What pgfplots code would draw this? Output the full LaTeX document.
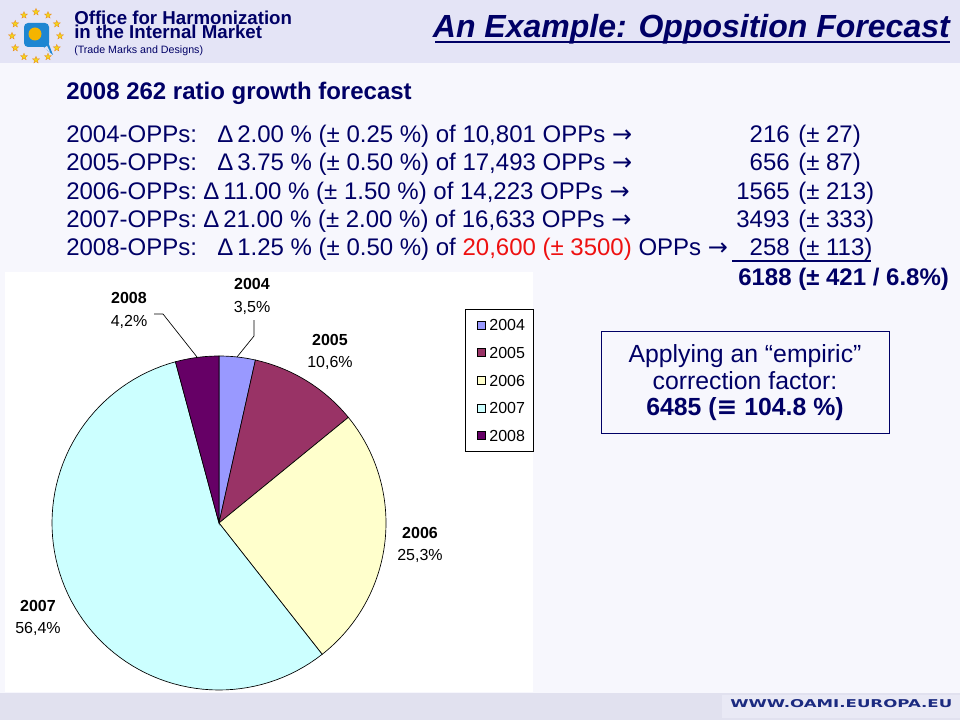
\documentclass[border=0pt]{standalone}
\usepackage{fontspec}
\setmainfont{Liberation Sans}
\newfontfamily\dejavu{DejaVu Sans}
\usepackage{graphicx}
\usepackage{pgfplots}
\pgfplotsset{compat=1.18}
\usetikzlibrary{shapes.geometric}

\definecolor{navy}{HTML}{000066}
\definecolor{hdr}{HTML}{E4E4F6}
\definecolor{slide}{HTML}{F7F7FD}
\definecolor{ftr}{HTML}{E1E1EF}
\definecolor{ftrr}{HTML}{E9E9F5}
\definecolor{urlblue}{HTML}{1B2A80}
\definecolor{cA}{HTML}{9999FF}
\definecolor{cB}{HTML}{993366}
\definecolor{cC}{HTML}{FFFFCC}
\definecolor{cD}{HTML}{CCFFFF}
\definecolor{cE}{HTML}{660066}
\definecolor{oppred}{HTML}{EE1111}
\definecolor{logoblue}{HTML}{1E86D2}
\definecolor{logosun}{HTML}{F5B400}
\definecolor{starcol}{HTML}{F2D41C}

\newcommand\fs[1]{\fontsize{#1}{#1}\selectfont}
\newcommand\arr{{\dejavu →}}

% share of 2004..2008 oppositions, percent
\newcommand\pA{3.5}
\newcommand\pB{10.6}
\newcommand\pC{25.3}
\newcommand\pD{56.4}
\newcommand\pE{4.2}

\begin{document}
\begin{tikzpicture}[x=0.75pt,y=-0.75pt]
\path[use as bounding box] (0,0) rectangle (960,720);
\fill[slide] (0,0) rectangle (960,720);
\fill[hdr] (0,0) rectangle (960,63);
\fill[ftr] (0,693) rectangle (960,720);
\fill[ftrr] (722,695) rectangle (960,718);
\fill[white] (5,272) rectangle (533,692);

% logo
\foreach \i in {0,...,11}
  \node[star, star points=5, star point ratio=2.3, fill=starcol, draw=orange!70!brown, line width=0.2pt,
        inner sep=0pt, minimum size=5.5pt] at ({36+24*cos(30*\i)},{36+24*sin(30*\i)}) {};
\fill[logoblue, rounded corners=3] (24,23) rectangle (49,47);
\fill[logoblue] (40,44) -- (53,55) -- (48,42) -- cycle;
\fill[hdr] (44,48) -- (50,52) -- (47,46) -- cycle;
\fill[logosun] (35,34) circle[radius=6.5];

\begin{scope}[every node/.style={text=navy, inner sep=0pt}]
\node[anchor=base west, font=\bfseries\fs{14}] at (74,25) {Office for Harmonization};
\node[anchor=base west, font=\bfseries\fs{14}] at (74,39) {in the Internal Market};
\node[anchor=base west, font=\fs{8}] at (74,54) {(Trade Marks and Designs)};
\node[anchor=base east, font=\bfseries\itshape\fs{24}] at (950,38) {An Example: Opposition Forecast};
\draw[navy, line width=1.4pt] (435,42) -- (950,42);

\node[anchor=base west, font=\bfseries\fs{18}] at (66,100) {2008 262 ratio growth forecast};

\begin{scope}[every node/.append style={font=\fs{18}}]
\node[anchor=base west] at (66,143) {2004-OPPs:};
\node[anchor=base west] at (217,143) {Δ\hspace{3pt}2.00 \% (± 0.25 \%) of 10,801 OPPs \arr};
\node[anchor=base east] at (790,143) {216};
\node[anchor=base west] at (798,143) {(± 27)};

\node[anchor=base west] at (66,171) {2005-OPPs:};
\node[anchor=base west] at (217,171) {Δ\hspace{3pt}3.75 \% (± 0.50 \%) of 17,493 OPPs \arr};
\node[anchor=base east] at (790,171) {656};
\node[anchor=base west] at (798,171) {(± 87)};

\node[anchor=base west] at (66,200) {2006-OPPs:};
\node[anchor=base west] at (203,200) {Δ\hspace{3pt}11.00 \% (± 1.50 \%) of 14,223 OPPs \arr};
\node[anchor=base east] at (790,200) {1565};
\node[anchor=base west] at (798,200) {(± 213)};

\node[anchor=base west] at (66,228) {2007-OPPs:};
\node[anchor=base west] at (203,228) {Δ\hspace{3pt}21.00 \% (± 2.00 \%) of 16,633 OPPs \arr};
\node[anchor=base east] at (790,228) {3493};
\node[anchor=base west] at (798,228) {(± 333)};

\node[anchor=base west] at (66,256) {2008-OPPs:};
\node[anchor=base west] at (217,256) {Δ\hspace{3pt}1.25 \% (± 0.50 \%) of \textcolor{oppred}{20,600 (± 3500)} OPPs \arr};
\node[anchor=base east] at (790,256) {258};
\node[anchor=base west] at (798,256) {(± 113)};
\draw[navy, line width=1pt] (732,261) -- (871,261);

\node[anchor=base west, font=\bfseries\fs{18}] at (738,286) {6188 (± 421 / 6.8\%)};

\draw[navy, line width=0.75pt] (601,331) rectangle (889,433);
\node[anchor=base, font=\fs{18.6}] at (745,362) {Applying an “empiric”};
\node[anchor=base, font=\fs{18.6}] at (745,389) {correction factor:};
\node[anchor=base, font=\bfseries\fs{18.6}] at (745,415) {6485 ({\dejavu\bfseries ≡} 104.8 \%)};
\end{scope}
\end{scope}

\node[anchor=west, inner sep=0pt] at (730,704)
  {\resizebox{166.5pt}{6pt}{\color{urlblue}\dejavu\bfseries WWW.OAMI.EUROPA.EU}};

% pie
\coordinate (piecentre) at (219,523);
\pgfmathsetmacro\aA{90}
\pgfmathsetmacro\aB{\aA-3.6*\pA}
\pgfmathsetmacro\aC{\aB-3.6*\pB}
\pgfmathsetmacro\aD{\aC-3.6*\pC}
\pgfmathsetmacro\aE{\aD-3.6*\pD}
\pgfmathsetmacro\aF{\aE-3.6*\pE}
\begin{axis}[
    at={(piecentre)}, anchor=center,
    width=250.5pt, height=250.5pt, scale only axis,
    xmin=-1, xmax=1, ymin=-1, ymax=1,
    hide axis, clip=false,
    legend image code/.code={\path (0pt,0pt) (11.5pt,0pt);
        \draw[#1, line width=0.4pt] (2.8pt,-3pt) rectangle (8.8pt,3pt);},
    legend style={at={(1.2365,1.1407)}, anchor=north west, draw=black, line width=0.6pt,
        fill=white, text=black, font=\fs{12}, legend cell align=left,
        inner xsep=5.5pt, inner ysep=7pt, row sep=11.1pt,
        nodes={inner sep=0.5pt, text height=8.6pt, text depth=0pt}},
    every axis plot/.append style={draw=black, line width=0.5pt, samples=80, variable=\t},
]
\addplot[fill=cA, domain=\aB:\aA] ({cos(\t)}, {sin(\t)}) -- (0,0) -- cycle;
\addlegendentry{2004}
\addplot[fill=cB, domain=\aC:\aB] ({cos(\t)}, {sin(\t)}) -- (0,0) -- cycle;
\addlegendentry{2005}
\addplot[fill=cC, domain=\aD:\aC] ({cos(\t)}, {sin(\t)}) -- (0,0) -- cycle;
\addlegendentry{2006}
\addplot[fill=cD, domain=\aE:\aD] ({cos(\t)}, {sin(\t)}) -- (0,0) -- cycle;
\addlegendentry{2007}
\addplot[fill=cE, domain=\aF:\aE] ({cos(\t)}, {sin(\t)}) -- (0,0) -- cycle;
\addlegendentry{2008}
\end{axis}

% data labels
\begin{scope}[every node/.style={inner sep=0pt, text=black, anchor=base}]
\node[font=\bfseries\fs{12}] at (252,290) {2004};
\node[font=\fs{12}] at (252,312) {3,5\%};
\node[font=\bfseries\fs{12}] at (129,304) {2008};
\node[font=\fs{12}] at (129,326) {4,2\%};
\node[font=\bfseries\fs{12}] at (330,345) {2005};
\node[font=\fs{12}] at (330,367) {10,6\%};
\node[font=\bfseries\fs{12}] at (420,538) {2006};
\node[font=\fs{12}] at (420,560) {25,3\%};
\node[font=\bfseries\fs{12}] at (38,611) {2007};
\node[font=\fs{12}] at (38,633) {56,4\%};
\end{scope}
\draw[black, line width=0.5pt] (237,357) -- (254,336) -- (254,320);
\draw[black, line width=0.5pt] (197,357) -- (163,314) -- (154,314);
\end{tikzpicture}
\end{document}
